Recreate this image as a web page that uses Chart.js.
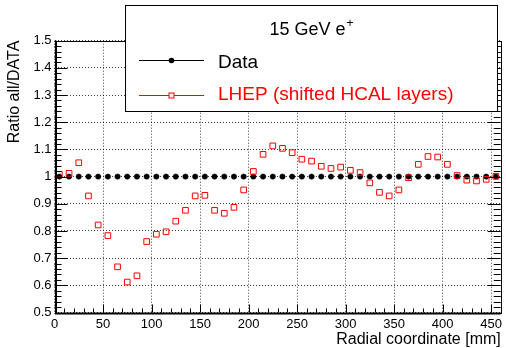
<!DOCTYPE html>
<html><head><meta charset="utf-8">
<script src="https://cdn.jsdelivr.net/npm/chart.js@4.4.1/dist/chart.umd.min.js"></script>
<style>html,body{margin:0;padding:0;background:#fff;}canvas{display:block;}</style>
</head><body>
<canvas id="c" width="506" height="348"></canvas>
<script>
const radial = [5,15,25,35,45,55,65,75,85,95,105,115,125,135,145,155,165,175,185,195,205,215,225,235,245,255,265,275,285,295,305,315,325,335,345,355,365,375,385,395,405,415,425,435,445,455];
const dataRatio = [1,1,1,1,1,1,1,1,1,1,1,1,1,1,1,1,1,1,1,1,1,1,1,1,1,1,1,1,1,1,1,1,1,1,1,1,1,1,1,1,1,1,1,1,1,1];
const lhepRatio = [1.008,1.012,1.051,0.929,0.822,0.783,0.668,0.612,0.635,0.761,0.788,0.797,0.836,0.876,0.929,0.931,0.876,0.865,0.887,0.951,1.019,1.082,1.113,1.104,1.088,1.064,1.057,1.038,1.030,1.035,1.023,1.015,0.977,0.942,0.929,0.951,0.996,1.045,1.074,1.072,1.045,1.004,0.987,0.984,0.990,1.001];
const seriesNames = ['Data', 'LHEP (shifted HCAL layers)'];
const legendHeader = '15 GeV e';
const legendHeaderSup = '+';
const xTitle = 'Radial coordinate [mm]';
const yTitle = 'Ratio all/DATA';
const xRange = [0, 460];
const yRange = [0.5, 1.5];

const FONT = "'Liberation Sans', Arial, Helvetica, sans-serif";

function pts(xs, ys) { return xs.map((v, i) => ({x: v, y: ys[i]})); }

const frameTicks = {
  id: 'frameTicks',
  afterDraw(chart) {
    const {ctx, chartArea: a, scales: {x, y}} = chart;
    ctx.save();
    ctx.strokeStyle = '#000';
    ctx.lineWidth = 1;
    const minors = (vals) => { const out = []; for (let i = 0; i < vals.length - 1; i++) { const d = (vals[i+1] - vals[i]) / 5; for (let k = 1; k < 5; k++) out.push(vals[i] + k * d); } return out; };
    const yv = y.ticks.map(t => t.value);
    const xv = x.ticks.map(t => t.value);
    ctx.beginPath();
    // y ticks left and right
    yv.forEach(v => { const p = Math.round(y.getPixelForValue(v)) + 0.5; ctx.moveTo(a.left, p); ctx.lineTo(a.left + 13, p); ctx.moveTo(a.right, p); ctx.lineTo(a.right - 13, p); });
    minors(yv).forEach(v => { const p = Math.round(y.getPixelForValue(v)) + 0.5; ctx.moveTo(a.left, p); ctx.lineTo(a.left + 7, p); ctx.moveTo(a.right, p); ctx.lineTo(a.right - 7, p); });
    // x ticks bottom
    xv.forEach(v => { const p = Math.round(x.getPixelForValue(v)) + 0.5; ctx.moveTo(p, a.bottom); ctx.lineTo(p, a.bottom - 8); });
    minors(xv).forEach(v => { const p = Math.round(x.getPixelForValue(v)) + 0.5; ctx.moveTo(p, a.bottom); ctx.lineTo(p, a.bottom - 4); });
    ctx.stroke();
    // frame
    ctx.strokeRect(Math.round(a.left) + 0.5, Math.round(a.top) + 0.5, Math.round(a.right - a.left), Math.round(a.bottom - a.top));
    ctx.lineWidth = 2;
    ctx.beginPath();
    ctx.moveTo(Math.round(a.left) + 1, a.top); ctx.lineTo(Math.round(a.left) + 1, a.bottom + 1);
    ctx.lineTo(a.right, a.bottom + 1);
    ctx.stroke();

    // legend box
    const bx = 125.5, by = 5.5, bw = 372, bh = 106;
    ctx.fillStyle = '#fff';
    ctx.fillRect(bx, by, bw, bh);
    ctx.lineWidth = 1;
    ctx.strokeStyle = '#000';
    ctx.strokeRect(bx, by, bw, bh);
    // header
    ctx.fillStyle = '#000';
    ctx.textBaseline = 'alphabetic';
    ctx.font = '18px ' + FONT;
    const hw = ctx.measureText(legendHeader).width;
    ctx.font = '12px ' + FONT;
    const sw = ctx.measureText(legendHeaderSup).width;
    const hx = 311 - (hw + sw) / 2;
    ctx.font = '18px ' + FONT;
    ctx.textAlign = 'left';
    ctx.fillText(legendHeader, hx, 35);
    ctx.font = '12px ' + FONT;
    ctx.fillText(legendHeaderSup, hx + hw + 1, 27);
    // entries
    const rows = [{ly: 60.5, ty: 68}, {ly: 95.5, ty: 100}];
    chart.data.datasets.forEach((ds, i) => {
      const r = rows[i];
      ctx.strokeStyle = ds.borderColor;
      ctx.lineWidth = 1;
      ctx.beginPath(); ctx.moveTo(139, r.ly); ctx.lineTo(204, r.ly); ctx.stroke();
      if (ds.pointStyle === 'circle') {
        ctx.fillStyle = ds.pointBackgroundColor;
        ctx.beginPath(); ctx.arc(171.5, r.ly, 2.8, 0, Math.PI * 2); ctx.fill();
      } else {
        ctx.fillStyle = '#fff';
        ctx.fillRect(169, r.ly - 2.5, 5, 5);
        ctx.strokeRect(169, r.ly - 2.5, 5, 5);
      }
      ctx.fillStyle = ds.borderColor;
      ctx.font = '19px ' + FONT;
      ctx.fillText(ds.label, 218, r.ty);
    });
    ctx.restore();
  }
};

new Chart(document.getElementById('c'), {
  type: 'scatter',
  data: {
    datasets: [
      { label: seriesNames[0], data: pts(radial, dataRatio), order: 1, showLine: false,
        pointStyle: 'circle', pointRadius: 2.7, pointBorderWidth: 0.5,
        borderColor: '#000000', pointBackgroundColor: '#000000', pointBorderColor: '#000000' },
      { label: seriesNames[1], data: pts(radial, lhepRatio), order: 0, showLine: false,
        pointStyle: 'rect', pointRadius: 4, pointBorderWidth: 1,
        borderColor: '#ff0000', pointBackgroundColor: 'rgba(0,0,0,0)', pointBorderColor: '#ff0000' }
    ]
  },
  options: {
    responsive: false,
    animation: false,
    devicePixelRatio: 1,
    events: [],
    layout: { padding: { top: 40.7, right: 2.5, left: 0, bottom: 0 } },
    plugins: { legend: { display: false }, tooltip: { enabled: false }, title: { display: false } },
    scales: {
      x: {
        type: 'linear', min: xRange[0], max: xRange[1],
        afterFit: s => { s.height = 35.5; },
        ticks: { stepSize: 50, includeBounds: false, padding: 4, color: '#000', font: { family: FONT, size: 13 }, maxRotation: 0, autoSkip: false },
        grid: { drawTicks: false, color: 'rgba(0,0,0,0.75)', lineWidth: 1 },
        border: { display: false, dash: [1, 2] },
        title: { display: true, text: xTitle, align: 'end', color: '#000', font: { family: FONT, size: 16, lineHeight: 1 }, padding: { top: 0, bottom: 0 } }
      },
      y: {
        type: 'linear', min: yRange[0], max: yRange[1],
        afterFit: s => { s.width = 54.5; },
        ticks: { stepSize: 0.1, padding: 3, color: '#000', font: { family: FONT, size: 13 }, autoSkip: false,
          callback: v => String(Number(v.toFixed(1))) },
        grid: { drawTicks: false, color: 'rgba(0,0,0,0.75)', lineWidth: 1 },
        border: { display: false, dash: [1, 2] },
        title: { display: true, text: yTitle, align: 'end', color: '#000', font: { family: FONT, size: 16, lineHeight: 1 }, padding: { top: 7, bottom: 0 } }
      }
    }
  },
  plugins: [frameTicks]
});
</script>
</body></html>
